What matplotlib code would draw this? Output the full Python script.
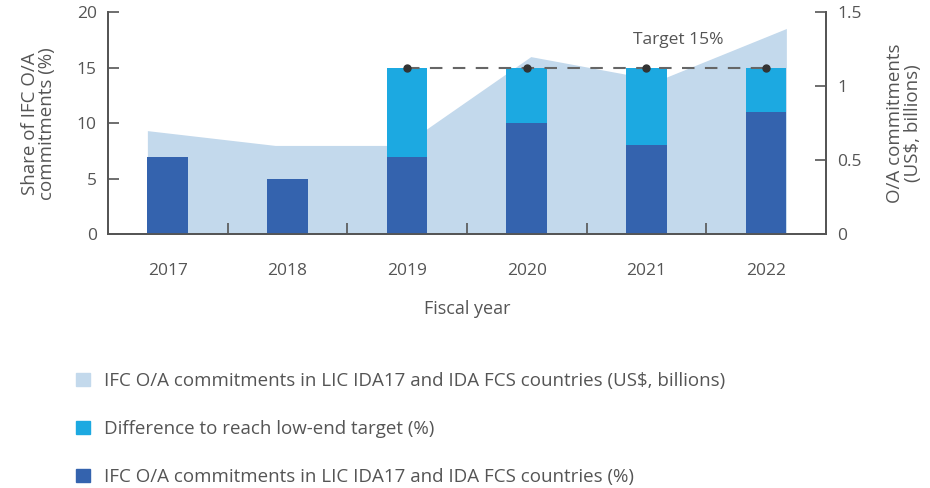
import numpy as np
import matplotlib.pyplot as plt
from matplotlib.patches import Patch

years = ['2017', '2018', '2019', '2020', '2021', '2022']
share_pct = [7, 5, 7, 10, 8, 11]          # IFC O/A commitments (%)
gap_pct = [0, 0, 8, 5, 7, 4]              # difference to reach 15% target
commit_bn = [0.70, 0.60, 0.60, 1.20, 1.04, 1.39]   # US$ billions
target = 15
target_years = [2, 3, 4, 5]

c_area = '#c3d9ec'
c_gap = '#1ca9e1'
c_share = '#3463ae'
c_text = '#555555'
c_axis = '#555555'

plt.rcParams['font.family'] = ['Open Sans', 'DejaVu Sans']

def main():
    fig = plt.figure(figsize=(9.3, 4.88), dpi=100)
    ax = fig.add_axes([0.116, 0.52, 0.772, 0.455])
    ax2 = ax.twinx()

    x = np.arange(len(years))
    w = 0.34
    xa = np.linspace(-w / 2, len(years) - 1 + w / 2, len(years))
    ax2.fill_between(xa, commit_bn, color=c_area, lw=0)
    ax2.set_ylim(0, 1.5)
    ax2.set_yticks([0, 0.5, 1, 1.5])
    ax2.set_yticklabels(['0', '0.5', '1', '1.5'])

    ax.set_zorder(ax2.get_zorder() + 1)
    ax.patch.set_visible(False)
    ax.bar(x, share_pct, w, color=c_share, zorder=2)
    ax.bar(x, gap_pct, w, bottom=share_pct, color=c_gap, zorder=2)

    tx = [x[i] for i in target_years]
    ax.plot(tx, [target] * len(tx), color='#666666', lw=1.5, dashes=(6, 5), zorder=3)
    ax.plot(tx, [target] * len(tx), 'o', color='#333333', ms=5, zorder=4)
    ax.text(4.27, 17.5, 'Target 15%', ha='center', va='center', fontsize=12.5, color=c_text)

    ax.set_xlim(-0.5, len(years) - 0.5)
    ax.set_ylim(0, 20)
    ax.set_yticks([0, 5, 10, 15, 20])
    ax.set_xticks(x[:-1] + 0.5)
    ax.set_xticklabels([])
    for i, y in enumerate(years):
        ax.text(x[i], -3.3, y, ha='center', va='center', fontsize=12.5, color=c_text)
    ax.text(2.5, -6.7, 'Fiscal year', ha='center', va='center', fontsize=13, color=c_text)

    for a in (ax, ax2):
        a.tick_params(direction='in', length=8, width=1.2, colors=c_axis,
                      labelcolor=c_text, labelsize=12.5, pad=8)
        for s in a.spines.values():
            s.set_color(c_axis)
            s.set_linewidth(1.3)
        a.spines['top'].set_visible(False)

    ax.set_ylabel('Share of IFC O/A\ncommitments (%)', fontsize=13.5, color=c_text,
                  linespacing=0.95, labelpad=15)
    ax2.set_ylabel('O/A commitments\n(US$, billions)', fontsize=13.5, color=c_text,
                   linespacing=0.95, labelpad=18)

    handles = [Patch(color=c_area), Patch(color=c_gap), Patch(color=c_share)]
    labels = ['IFC O/A commitments in LIC IDA17 and IDA FCS countries (US$, billions)',
              'Difference to reach low-end target (%)',
              'IFC O/A commitments in LIC IDA17 and IDA FCS countries (%)']
    leg = fig.legend(handles, labels, loc='upper left', bbox_to_anchor=(0.072, 0.257),
                     frameon=False, fontsize=13.5, handlelength=0.75, handleheight=0.75,
                     handletextpad=0.75, labelspacing=1.6, borderpad=0)
    for t in leg.get_texts():
        t.set_color(c_text)

    fig.savefig('out.png', dpi=100)

if __name__ == "__main__":
    main()
